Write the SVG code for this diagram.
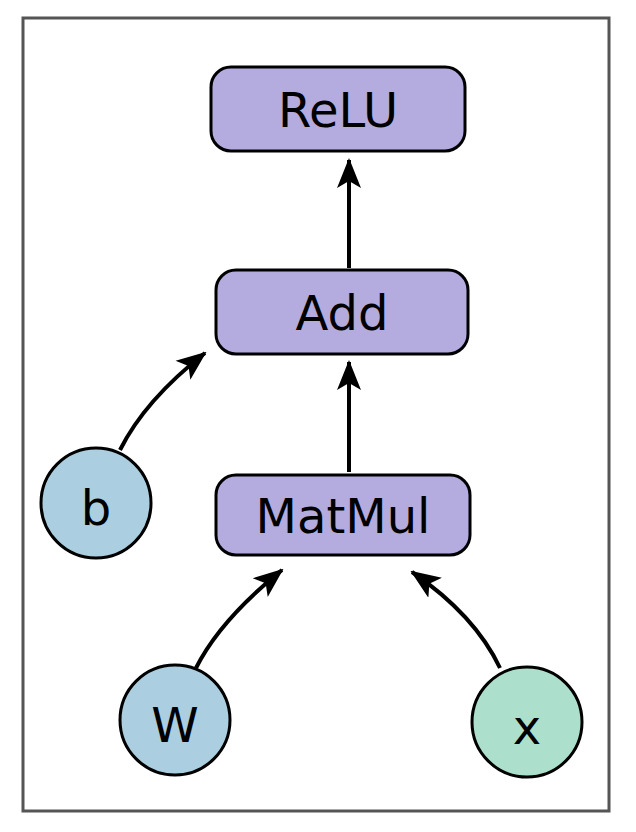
<svg xmlns="http://www.w3.org/2000/svg" width="636" height="832" viewBox="0 0 636 832">
<style>
.op{fill:#b4acdf;stroke:#000;stroke-width:3}
.v{stroke:#000;stroke-width:3}
.e{fill:none;stroke:#000;stroke-width:4}
text{font-family:"DejaVu Sans",sans-serif;font-size:48px;text-anchor:middle;fill:#000}
</style>
<defs>
<marker id="a" markerUnits="userSpaceOnUse" markerWidth="30" markerHeight="30" viewBox="0 0 30 30" refX="28" refY="15" orient="auto">
<path d="M0,3 L30,15 L0,27 L7,15 Z" fill="#000"/>
</marker>
</defs>
<rect x="23" y="18" width="586" height="793" fill="#fff" stroke="#555" stroke-width="3"/>
<g id="connectors">
<path class="e" d="M349,268 L349,160" marker-end="url(#a)"/>
<path class="e" d="M349,472 L349,362" marker-end="url(#a)"/>
<path class="e" d="M120,450 Q145,400 205,353" marker-end="url(#a)"/>
<path class="e" d="M196,668 Q220,620 282,570" marker-end="url(#a)"/>
<path class="e" d="M500,668 Q475,615 412,572" marker-end="url(#a)"/>
</g>
<g id="relu"><rect class="op" x="211" y="67" width="254" height="84" rx="20"/><text x="338" y="127">ReLU</text></g>
<g id="add"><rect class="op" x="216" y="270" width="252" height="84" rx="20"/><text x="342" y="330">Add</text></g>
<g id="matmul"><rect class="op" x="216" y="475" width="254" height="80" rx="20"/><text x="343" y="533">MatMul</text></g>
<g id="b"><circle class="v" cx="96" cy="503" r="55" fill="#abcfe0"/><text x="96" y="525" font-size="62">b</text></g>
<g id="w"><circle class="v" cx="175" cy="720" r="55" fill="#abcfe0"/><text x="175" y="742" font-size="62">W</text></g>
<g id="x"><circle class="v" cx="527" cy="722" r="55" fill="#ade0cc"/><text x="527" y="744" font-size="62">x</text></g>
</svg>
